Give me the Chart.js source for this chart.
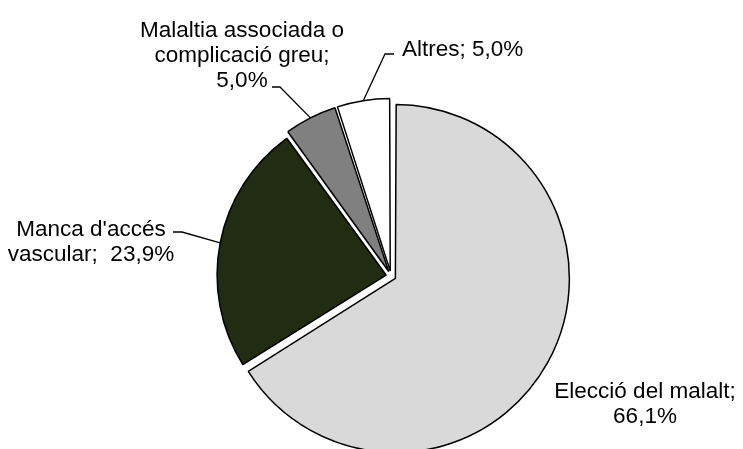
<!DOCTYPE html>
<html>
<head>
<meta charset="utf-8">
<script src="https://cdn.jsdelivr.net/npm/chart.js@4"></script>
<style>
  html, body { margin: 0; padding: 0; background: #fff; }
</style>
</head>
<body>
<canvas id="pie" width="743" height="449"></canvas>
<script>
const categories = ["Elecció del malalt", "Manca d'accés vascular", "Malaltia associada o complicació greu", "Altres"];
const percents = [66.1, 23.9, 5.0, 5.0];
const sliceColors = ["#d9d9d9", "#222c13", "#808080", "#ffffff"];
const sliceOffset = [20, 20, 20, 20];

// label lines, {v} is replaced by the value
const labelLines = [
  ["Elecció del malalt;", "{v}"],
  ["Manca d'accés", "vascular;  {v}"],
  ["Malaltia associada o", "complicació greu;", "{v}"],
  ["Altres; {v}"]
];

// positions relative to pie centre: text anchor, first baseline, leader elbow + end
const labelLayout = [
  { align: "center", x: 254, y: 122, leader: null },
  { align: "center", x: -300, y: -40, leader: [[-209, -44], [-218, -44]] },
  { align: "center", x: -149, y: -239, leader: [[-111, -189], [-119, -189]] },
  { align: "left", x: 11, y: -220, leader: [[-6, -222], [3, -222]] }
];
const lineStep = 25;

function fmt(v) {
  return v.toFixed(1).replace(".", ",") + "%";
}

const labelPlugin = {
  id: "sliceLabels",
  afterDatasetsDraw(chart) {
    const ctx = chart.ctx;
    const area = chart.chartArea;
    const cx = (area.left + area.right) / 2;
    const cy = (area.top + area.bottom) / 2;
    const meta = chart.getDatasetMeta(0);
    ctx.save();
    ctx.font = '22.5px "Liberation Sans", Arial, sans-serif';
    ctx.fillStyle = "#000";
    ctx.strokeStyle = "#000";
    ctx.lineWidth = 1.3;
    ctx.textBaseline = "alphabetic";
    meta.data.forEach((arc, i) => {
      const p = arc.getProps(["x", "y", "startAngle", "endAngle", "outerRadius", "circumference"]);
      const lay = labelLayout[i];
      if (lay.leader) {
        const mid = (p.startAngle + p.endAngle) / 2;
        const off = sliceOffset[i] / 4;
        const fix = 1 - Math.sin(Math.min(Math.PI, p.circumference));
        const r = p.outerRadius + off + off * fix;
        ctx.beginPath();
        ctx.moveTo(p.x + Math.cos(mid) * r, p.y + Math.sin(mid) * r);
        lay.leader.forEach(pt => ctx.lineTo(cx + pt[0], cy + pt[1]));
        ctx.stroke();
      }
      ctx.textAlign = lay.align;
      labelLines[i].forEach((line, k) => {
        ctx.fillText(line.replace("{v}", fmt(percents[i])), cx + lay.x, cy + lay.y + k * lineStep);
      });
    });
    ctx.restore();
  }
};

new Chart(document.getElementById("pie"), {
  type: "pie",
  data: {
    labels: categories,
    datasets: [{
      data: percents,
      backgroundColor: sliceColors,
      borderColor: "#000",
      borderWidth: 1.5,
      offset: sliceOffset,
      radius: 169,
      clip: false
    }]
  },
  options: {
    responsive: false,
    animation: false,
    layout: { padding: { left: 39, top: 103, right: 0, bottom: 0 } },
    plugins: {
      legend: { display: false },
      tooltip: { enabled: false }
    }
  },
  plugins: [labelPlugin]
});
</script>
</body>
</html>
